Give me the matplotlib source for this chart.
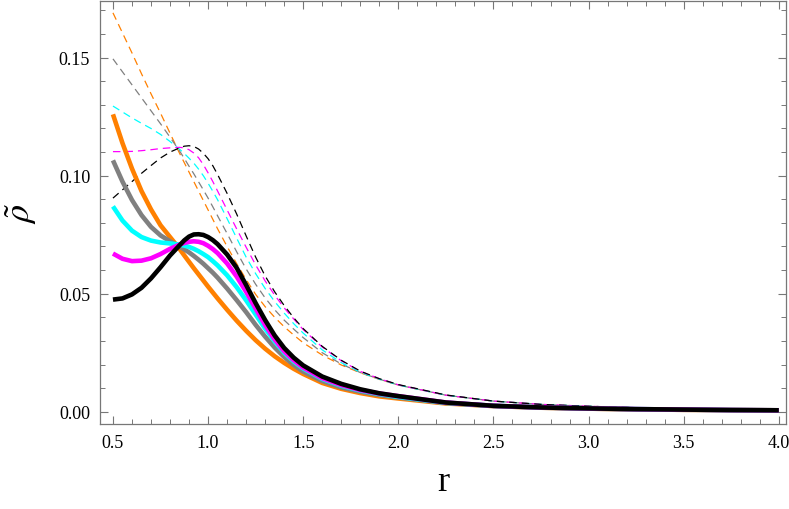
import matplotlib
matplotlib.use("Agg")
import matplotlib.pyplot as plt
from matplotlib.ticker import MultipleLocator, FormatStrFormatter

plt.rcParams["font.family"] = ["Liberation Serif", "DejaVu Serif"]
plt.rcParams["mathtext.fontset"] = "stix"

# sample radii
r = [0.5, 0.55, 0.6, 0.65, 0.7, 0.75, 0.8, 0.85, 0.875, 0.9,
     0.925, 0.95, 0.975, 1.0, 1.025, 1.05, 1.1, 1.15, 1.2, 1.25,
     1.3, 1.35, 1.4, 1.45, 1.5, 1.6, 1.7, 1.8, 1.9, 2.0,
     2.25, 2.5, 2.75, 3.0, 3.25, 3.5, 3.75, 4.0]

# solid curves
orange_s = [0.1260, 0.1138, 0.1030, 0.0935, 0.0857, 0.0790, 0.0740, 0.0690, 0.0662, 0.0635,
            0.0608, 0.0582, 0.0556, 0.0530, 0.0505, 0.0480, 0.0432, 0.0386, 0.0343, 0.0303,
            0.0267, 0.0235, 0.0207, 0.0182, 0.0160, 0.0122, 0.0097, 0.0079, 0.0065, 0.0056,
            0.0035, 0.0024, 0.0017, 0.0013, 0.0010, 0.0008, 0.0007, 0.0006]
gray_s = [0.1065, 0.0975, 0.0897, 0.0833, 0.0783, 0.0747, 0.0722, 0.0700, 0.0688, 0.0675,
          0.0660, 0.0644, 0.0627, 0.0608, 0.0589, 0.0568, 0.0522, 0.0473, 0.0422, 0.0368,
          0.0318, 0.0272, 0.0232, 0.0198, 0.0170, 0.0130, 0.0103, 0.0085, 0.0071, 0.0060,
          0.0037, 0.0024, 0.0017, 0.0013, 0.0010, 0.0008, 0.0007, 0.0006]
cyan_s = [0.0870, 0.0810, 0.0767, 0.0740, 0.0725, 0.0717, 0.0713, 0.0708, 0.0704, 0.0698,
          0.0690, 0.0680, 0.0668, 0.0655, 0.0638, 0.0620, 0.0578, 0.0528, 0.0472, 0.0412,
          0.0352, 0.0298, 0.0250, 0.0213, 0.0183, 0.0139, 0.0110, 0.0090, 0.0075, 0.0063,
          0.0038, 0.0025, 0.0018, 0.0014, 0.0011, 0.0009, 0.0007, 0.0006]
magenta_s = [0.0670, 0.0648, 0.0638, 0.0640, 0.0650, 0.0668, 0.0690, 0.0708, 0.0715, 0.0720,
             0.0722, 0.0720, 0.0714, 0.0703, 0.0689, 0.0672, 0.0628, 0.0573, 0.0508, 0.0437,
             0.0367, 0.0306, 0.0256, 0.0218, 0.0187, 0.0142, 0.0113, 0.0092, 0.0077, 0.0066,
             0.0039, 0.0025, 0.0018, 0.0014, 0.0011, 0.0009, 0.0007, 0.0006]
black_s = [0.0475, 0.0480, 0.0497, 0.0525, 0.0565, 0.0612, 0.0662, 0.0705, 0.0726, 0.0742,
           0.0751, 0.0752, 0.0749, 0.0740, 0.0727, 0.0710, 0.0666, 0.0610, 0.0537, 0.0460,
           0.0388, 0.0323, 0.0270, 0.0229, 0.0196, 0.0149, 0.0118, 0.0095, 0.0078, 0.0066,
           0.0039, 0.0025, 0.0018, 0.0014, 0.0011, 0.0009, 0.0007, 0.0006]

# dashed curves
orange_d = [0.1690, 0.1605, 0.1520, 0.1432, 0.1347, 0.1265, 0.1180, 0.1095, 0.1055, 0.1015,
            0.0975, 0.0935, 0.0895, 0.0855, 0.0815, 0.0775, 0.0700, 0.0628, 0.0560, 0.0497,
            0.0445, 0.0400, 0.0360, 0.0325, 0.0292, 0.0240, 0.0198, 0.0165, 0.0137, 0.0113,
            0.0070, 0.0045, 0.0031, 0.0023, 0.0017, 0.0013, 0.0010, 0.0008]
gray_d = [0.1495, 0.1440, 0.1385, 0.1330, 0.1275, 0.1220, 0.1163, 0.1105, 0.1073, 0.1040,
          0.1008, 0.0974, 0.0940, 0.0905, 0.0868, 0.0830, 0.0755, 0.0678, 0.0605, 0.0540,
          0.0482, 0.0432, 0.0388, 0.0350, 0.0314, 0.0250, 0.0202, 0.0166, 0.0138, 0.0113,
          0.0070, 0.0045, 0.0031, 0.0023, 0.0017, 0.0013, 0.0010, 0.0008]
cyan_d = [0.1295, 0.1270, 0.1245, 0.1222, 0.1200, 0.1175, 0.1145, 0.1112, 0.1094, 0.1074,
          0.1053, 0.1028, 0.1000, 0.0968, 0.0934, 0.0898, 0.0818, 0.0736, 0.0655, 0.0585,
          0.0522, 0.0467, 0.0418, 0.0373, 0.0333, 0.0262, 0.0208, 0.0167, 0.0138, 0.0113,
          0.0070, 0.0045, 0.0031, 0.0023, 0.0017, 0.0013, 0.0010, 0.0008]
magenta_d = [0.1102, 0.1102, 0.1103, 0.1106, 0.1110, 0.1115, 0.1118, 0.1120, 0.1118, 0.1110,
             0.1096, 0.1076, 0.1047, 0.1012, 0.0975, 0.0935, 0.0855, 0.0775, 0.0697, 0.0622,
             0.0554, 0.0494, 0.0440, 0.0393, 0.0348, 0.0274, 0.0216, 0.0171, 0.0140, 0.0114,
             0.0070, 0.0045, 0.0031, 0.0023, 0.0017, 0.0013, 0.0010, 0.0008]
black_d = [0.0905, 0.0940, 0.0975, 0.1010, 0.1043, 0.1075, 0.1100, 0.1118, 0.1125, 0.1127,
           0.1124, 0.1113, 0.1095, 0.1072, 0.1042, 0.1005, 0.0925, 0.0838, 0.0745, 0.0655,
           0.0575, 0.0508, 0.0450, 0.0398, 0.0352, 0.0277, 0.0218, 0.0172, 0.0140, 0.0115,
           0.0071, 0.0045, 0.0031, 0.0023, 0.0017, 0.0013, 0.0010, 0.0008]

colors = ["#FF8000", "#808080", "#00FFFF", "#FF00FF", "#000000"]
solid = [orange_s, gray_s, cyan_s, magenta_s, black_s]
dashed = [orange_d, gray_d, cyan_d, magenta_d, black_d]

fig = plt.figure(figsize=(7.89, 5.10), dpi=100)
ax = fig.add_axes([0.1267, 0.1667, 0.8693, 0.8293])

for c, ys in zip(colors, dashed):
    ax.plot(r, ys, color=c, lw=0.9, dashes=(6, 4))
for c, ys in zip(colors, solid):
    ax.plot(r, ys, color=c, lw=3.3, solid_capstyle="butt", solid_joinstyle="round")

ax.set_xlim(0.4317, 4.037)
ax.set_ylim(-0.0052, 0.174)
ax.xaxis.set_major_locator(MultipleLocator(0.5))
ax.xaxis.set_minor_locator(MultipleLocator(0.1))
ax.yaxis.set_major_locator(MultipleLocator(0.05))
ax.yaxis.set_minor_locator(MultipleLocator(0.01))
ax.xaxis.set_major_formatter(FormatStrFormatter("%.1f"))
ax.yaxis.set_major_formatter(FormatStrFormatter("%.2f"))

frame = "#777777"
for s in ax.spines.values():
    s.set_color(frame)
    s.set_linewidth(0.9)
ax.tick_params(which="both", direction="in", top=True, right=True, color=frame,
               labelsize=13, labelcolor="black")
ax.tick_params(which="major", length=6, width=0.8, pad=7)
ax.tick_params(which="minor", length=3.5, width=0.7)

ax.set_xlabel("r", fontsize=26, labelpad=10)
ax.set_ylabel(r"$\tilde{\rho}$", fontsize=26, labelpad=14)

plt.savefig("out.png", dpi=100)
plt.close()
